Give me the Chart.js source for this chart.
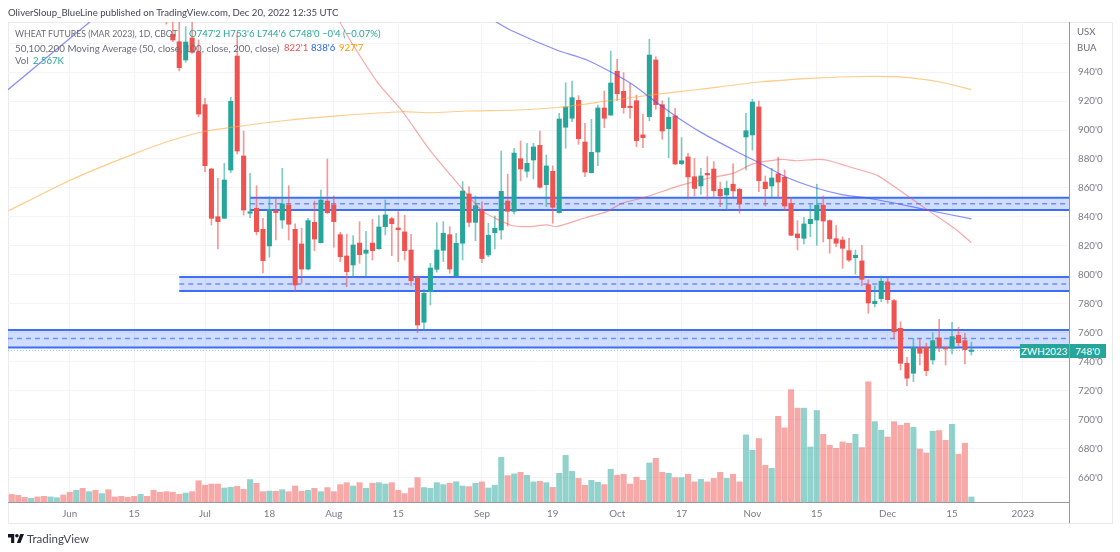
<!DOCTYPE html>
<html>
<head>
<meta charset="utf-8">
<title>Wheat futures</title>
<script src="https://cdn.jsdelivr.net/npm/chart.js@4"></script>
<style>
  html, body { margin: 0; background: #fff; }
  body { width: 1120px; height: 552px; position: relative; overflow: hidden; font-family: Lato, sans-serif; }
  canvas { position: absolute; left: 0; top: 0; }
  .t { position: absolute; white-space: pre; font-size: 9.6px; line-height: 14px; color: #6a6d78; z-index: 2; }
  .up { color: #26a69a; }
  .r1 { top: 27px; } .r2 { top: 41px; } .r3 { top: 54px; }
  #frame { position: absolute; left: 8px; top: 22px; width: 1103px; height: 500px; border: 1px solid #e9eaf0; }
  #axisTail { position: absolute; left: 1068.5px; top: 502px; width: 1px; height: 21px; background: #9598a1; }
  .tag { position: absolute; top: 344px; height: 14px; line-height: 14px; background: #26a69a; color: #fff; font-size: 9.8px; text-align: center; z-index: 3; }
</style>
</head>
<body>
<div id="frame"></div>
<canvas id="price-chart" width="1120" height="552"></canvas>
<div id="axisTail"></div>

<div class="t" style="left:8px;top:6px;color:#434651">OliverSloup_BlueLine published on TradingView.com, Dec 20, 2022 12:35 UTC</div>
<div class="t r1" style="left:15px;font-size:8.7px">WHEAT FUTURES (MAR 2023), 1D, CBOT</div>
<div class="t r1 up" style="left:189px">O747'2</div>
<div class="t r1 up" style="left:223px">H753'6</div>
<div class="t r1 up" style="left:257px">L744'6</div>
<div class="t r1 up" style="left:289px">C748'0</div>
<div class="t r1 up" style="left:322px">−0'4 (−0.07%)</div>
<div class="t r2" style="left:15px;font-size:9.8px">50,100,200 Moving Average (50, close, 100, close, 200, close)</div>
<div class="t r2" style="left:284px;color:#ef5350">822'1</div>
<div class="t r2" style="left:311px;color:#2962ff">838'6</div>
<div class="t r2" style="left:339px;color:#ff9800">927'7</div>
<div class="t r3" style="left:15px">Vol</div>
<div class="t r3 up" style="left:33px">2.567K</div>
<div class="t" style="left:1077px;top:25px">USX</div>
<div class="t" style="left:1077px;top:41px">BUA</div>
<div class="tag" style="left:1020px;width:48.5px">ZWH2023</div>
<div class="tag" style="left:1069.5px;width:36px">748'0</div>
<svg style="position:absolute;left:8px;top:534px" width="16" height="9" viewBox="0 0 36 20"><path fill="#131722" d="M14 20H7V8H0V0h14v20zM28 20h-8L27.5 0H36l-8 20z"/><circle fill="#131722" cx="20" cy="4" r="4"/></svg>
<div class="t" style="left:27px;top:532px;font-size:11.5px;color:#434651">TradingView</div>

<script>
// daily bars, bar index 0 = first bar on the left edge
const volumes = [
  3.9, 3.4, 2.4, 1.9, 2.6, 2.9, 2.6, 2.2, 3.6, 5.0,
  6.0, 7.0, 5.3, 6.0, 4.3, 6.3, 2.6, 2.9, 2.4, 2.9,
  3.9, 2.9, 6.0, 5.0, 5.3, 5.0, 3.9, 4.6, 5.3, 10.9,
  8.6, 9.2, 9.2, 7.2, 7.5, 8.0, 6.5, 11.5, 9.6, 5.3,
  5.6, 5.5, 6.3, 5.3, 8.2, 5.5, 6.0, 7.0, 5.3, 7.4,
  5.3, 8.9, 9.9, 8.2, 9.9, 7.0, 9.6, 9.9, 9.2, 9.9,
  6.0, 4.3, 7.2, 12.5, 7.4, 7.0, 9.9, 8.9, 9.6, 10.4,
  8.2, 7.9, 9.6, 10.3, 7.2, 8.6, 22.9, 13.5, 14.4, 15.2,
  13.7, 10.3, 10.6, 9.9, 7.5, 14.7, 23.9, 15.7, 12.1, 8.6,
  11.1, 10.1, 8.9, 16.8, 13.7, 14.2, 9.2, 12.7, 11.1, 20.0,
  22.4, 15.2, 14.7, 12.5, 12.5, 14.2, 10.3, 11.6, 10.3, 12.1,
  15.2, 12.1, 14.2, 10.3, 34.4, 26.5, 32.5, 18.8, 17.3, 43.9,
  38.0, 57.6, 48.1, 48.1, 28.2, 46.9, 34.7, 29.1, 27.5, 30.8,
  30.1, 34.7, 27.9, 61.6, 41.2, 36.8, 33.3, 41.2, 39.3, 40.4,
  38.3, 27.2, 25.1, 36.3, 36.6, 31.6, 39.8, 24.5, 30.1, 2.567,
];
// r = down day, t = up day
const volumeDir =
  'rrrtrrttrr' + 'trtrtrrrrr' + 'trrrrrrtrr' + 'rrrttrrtrr' + 'trtrrrtrtr' +
  'rrrtrtrttr' + 'rrrrttttrt' + 'trtrtttrtr' + 'ttrtrtttrr' + 'ttrtrrrrrt' +
  'rrtrtrrtrr' + 'rtrrttrrtr' + 'rrrtttrrrr' + 'rtrrttrrrr' + 'trrtrrtrrt';

// candles before this index sit above the visible price range
const firstCandle = 24;
const opens = [
  982, 966, 960.9, 948.3, 963.5, 954, 917.5, 873.1, 840.2, 839.1,
  872.4, 951, 882.1, 842.6, 846, 831.5, 820, 844.4, 837.9, 848.3,
  831.5, 821.4, 804.1, 836.3, 822.3, 851, 848.3, 827.8, 813.1, 806.9,
  822, 815, 822, 818.1, 833.3, 838.8, 832.4, 829.7, 817.2, 798.4,
  767.4, 788.7, 803.9, 817, 827.8, 799.3, 821.9, 855.9, 836.3, 844.8,
  813.8, 829.2, 831, 851, 843.9, 880.2, 871.5, 879.3, 889.4, 862.3,
  871.5, 843, 901.9, 908.1, 920.5, 891.7, 870.6, 884.8, 915.2, 910.3,
  940.5, 926.7, 915.9, 920.2, 896.6, 909.2, 948.3, 917.5, 900.9, 909.7,
  876.8, 881.4, 867.8, 861.4, 870.1, 873.1, 859.1, 855.2, 862.6, 859.1,
  895.2, 896.6, 915.9, 864.1, 861.4, 869.7, 867.4, 849.4, 828.3, 825.3,
  835.4, 837.9, 848.1, 837.5, 825, 824.1, 816.8, 811.9, 809.7, 793.3,
  780.2, 783.7, 795.2, 782.3, 763.2, 739.1, 732.2, 749.9, 749.9, 741.4,
  756.6, 750.1, 749.5, 758.4, 754.7, 747.25,
];
const highs = [
  985, 976, 980, 971.3, 978, 962.1, 921.9, 873.6, 866.7, 877,
  922.5, 966.9, 899.3, 870.1, 861.6, 839.1, 854, 852.9, 873.6, 861.6,
  835.2, 832.2, 839.1, 851, 858.6, 880, 854.5, 829.4, 828.1, 827.1,
  836.8, 830.1, 838.4, 840.9, 851.7, 839.8, 843.7, 841.2, 828.1, 799.3,
  790.1, 808, 836.1, 836.8, 833.3, 828.8, 864.4, 860.9, 854.5, 850.5,
  835.7, 840.7, 885.5, 869.6, 887.4, 892.4, 890.8, 890.8, 899.3, 882.8,
  875.2, 911.5, 932.6, 933.8, 923.7, 904.6, 907.4, 917.2, 926.9, 954.5,
  948.8, 939.5, 932.2, 924.1, 911, 962.6, 950.6, 920.2, 922.3, 915,
  894.7, 883.9, 880.5, 873.6, 881.6, 878.2, 864.1, 864.8, 876.6, 859.8,
  911.5, 921.2, 920, 868.3, 873.6, 881.2, 872.4, 853.6, 837.5, 839.8,
  848.3, 862.6, 854.5, 838, 834, 826.4, 825.3, 817.2, 820.5, 796.6,
  792.4, 799.3, 798, 783.2, 767.8, 743.2, 756.3, 756.3, 752.9, 760.2,
  769.4, 750.3, 767.4, 763.9, 759.8, 753.75,
];
const lows = [
  973, 960.9, 940.7, 946.7, 952.9, 909, 871.3, 834.5, 817.9, 839.1,
  870.6, 883.5, 841.4, 839.5, 827.6, 801.4, 812.2, 824.1, 832.2, 824.1,
  788.5, 794.3, 803.5, 816.8, 822, 842.5, 819.1, 809.2, 791.9, 798.4,
  808, 799.5, 810.3, 817.7, 827.6, 813.3, 809.2, 810.3, 792.4, 760.2,
  762.1, 779.3, 801.9, 809.2, 801.2, 799, 810.3, 833.3, 823.7, 808.5,
  812.6, 817.9, 824.6, 833.8, 842.1, 865, 867.4, 866.2, 859.8, 847.1,
  835.7, 842.7, 887.4, 905.7, 890.1, 867.8, 870.3, 875.4, 901.6, 910,
  920.2, 911.5, 908.1, 888.5, 887.8, 906.4, 914.3, 893.6, 880.9, 875.9,
  876, 852.4, 854.5, 855.6, 852.2, 853.1, 847.1, 845.3, 854, 842.6,
  872.4, 886.2, 857.5, 847.6, 853.6, 853.6, 844.4, 827.1, 817.2, 821.4,
  826.4, 820.5, 822.8, 815, 819.5, 804.6, 809.2, 800.7, 792.6, 773.6,
  778, 781.6, 780.5, 755.7, 734.5, 723.7, 726.4, 737.9, 730.5, 738.4,
  747.1, 737.9, 745.5, 751, 738.6, 744.75,
];
const closes = [
  978, 962.1, 943, 960.7, 953.6, 911, 875.4, 839.1, 836.8, 865.5,
  919.8, 885.5, 844.8, 843.3, 829.9, 809.9, 845.3, 843, 849, 835,
  793.1, 804.1, 837.5, 824.8, 851.7, 842.9, 836.8, 812.6, 802.3, 820.7,
  814, 817.2, 816.8, 833.1, 841.4, 835.4, 831.2, 816.8, 796.1, 765.5,
  787.4, 804.8, 817.2, 828.8, 804.1, 821.9, 857.9, 836.3, 847.8, 811.3,
  827.4, 832.2, 857.7, 843.9, 884.1, 873.1, 877, 888.3, 860.5, 875.2,
  846.7, 907.6, 915.9, 922.3, 894, 871, 884.6, 915.2, 908.1, 932.4,
  925, 915.4, 915.4, 892.6, 894.7, 951.7, 917.5, 899.3, 908.8, 876.6,
  878.8, 867.6, 859.7, 868.3, 869, 858.1, 854.5, 859.8, 858, 849,
  899.5, 919.3, 865, 859.5, 866.9, 864.1, 847.6, 827.4, 825.7, 835.2,
  838.4, 848.1, 837.2, 825, 821.9, 818.4, 810.3, 813.6, 797, 780.7,
  781.9, 795.7, 783, 760.9, 739.1, 728.8, 749.9, 746, 734, 754.7,
  750.1, 749, 757.5, 753.3, 748.5, 748,
];

// moving averages, read at a few bar positions
const ma50Bars = [21.5, 46.3, 51, 52.5, 56.9, 60.5, 64.7, 69.9, 73.2, 77.4, 80, 83.1, 84.6, 89.3, 92.4, 94.7, 98.6, 103.2, 106.9, 108.9, 112, 115.1, 119.3, 121.9, 125.2, 127, 129.6, 134.3, 137.4, 142.6, 146.7, 149];
const ma50 = [1093.1, 1006.9, 974, 962.1, 932.2, 913.8, 887.4, 859.8, 843.7, 834.5, 833.3, 834.5, 833.3, 839.8, 843.7, 849.4, 854, 860.9, 865.2, 867.4, 870.1, 876.6, 879.8, 878.8, 879.8, 878.8, 875.2, 868.9, 859.8, 843.7, 831, 822.25];
const ma100Bars = [-0.6, 12.1, 21.5, 44.8, 65, 75, 77.4, 84.6, 89.3, 93.4, 96.5, 99.6, 103.2, 107.1, 112.6, 116.2, 120.3, 125, 129.1, 132.8, 137.9, 142.6, 149];
const ma100 = [927.8, 974.5, 1007.6, 1032.4, 1003.5, 975.2, 969, 955.2, 948.3, 939.1, 931, 920.7, 909.2, 898.2, 885, 877, 867.4, 859.8, 855.2, 853.1, 848.8, 844.4, 838.75];
const ma200Bars = [-0.5, 7.5, 12.1, 18.9, 24.1, 29.7, 34.9, 42.2, 50.5, 60.7, 64.9, 70.6, 78.4, 85.1, 92.4, 99.1, 106.9, 116.2, 125.5, 131.7, 137.9, 144.1, 149];
const ma200 = [844.3, 862.1, 871.3, 883.4, 891.9, 898.8, 902.3, 906.4, 909.7, 912.6, 911.9, 913.1, 913.8, 915.7, 920, 924.1, 928.1, 933.1, 935.9, 936.9, 936.6, 933.1, 927.875];

// support / resistance bands
const zoneStart  = [37, 26, -0.6];
const zoneTop    = [853.3, 798.6, 762.1];
const zoneMid    = [849.2, 793.8, 756.1];
const zoneBottom = [844.8, 789.0, 750.0];

const lastPrice = 748;

const tickBars   = [9, 19, 30, 40, 50, 60, 73, 84, 94, 104, 115, 125, 136, 146, 157];
const tickLabels = ['Jun', '15', 'Jul', '18', 'Aug', '15', 'Sep', '19', 'Oct', '17', 'Nov', '15', 'Dec', '15', '2023'];

const X_MIN = -0.59;
const X_MAX = 164.16;
const UP = '#26a69a';
const DOWN = '#ef5350';
const GRID = '#f3f4f9';
const AXIS = '#9598a1';
const TICK_FONT = { size: 9.8, family: 'Lato, sans-serif' };

const candleIdx = opens.map((_, i) => i + firstCandle);
const isUp = i => opens[i] <= closes[i];

function curve(xs, ys) {
  return xs.map((x, i) => ({ x, y: ys[i] }));
}
function maLine(xs, ys, color) {
  return {
    type: 'line', data: curve(xs, ys), borderColor: color, borderWidth: 1.2,
    pointRadius: 0, tension: 0.2, order: 1,
  };
}

const datasets = [];

// Volume
datasets.push({
  type: 'bar', yAxisID: 'vol', order: 7, grouped: false, barThickness: 5.4,
  data: volumes.map((v, i) => ({ x: i, y: v })),
  backgroundColor: volumes.map((_, i) => volumeDir[i] === 't' ? 'rgba(38,166,154,0.5)' : 'rgba(239,83,80,0.5)'),
});

// Zones: filled band, two solid edges, dashed middle
zoneStart.forEach((start, i) => {
  const span = [start, X_MAX];
  datasets.push({
    type: 'line', order: 6, data: curve(span, [zoneTop[i], zoneTop[i]]),
    borderColor: '#3f6ff5', borderWidth: 2, pointRadius: 0,
    fill: { target: { value: zoneBottom[i] } }, backgroundColor: 'rgba(41,98,255,0.22)',
  });
  datasets.push({
    type: 'line', order: 6, data: curve(span, [zoneBottom[i], zoneBottom[i]]),
    borderColor: '#3f6ff5', borderWidth: 2, pointRadius: 0,
  });
  datasets.push({
    type: 'line', order: 6, data: curve(span, [zoneMid[i], zoneMid[i]]),
    borderColor: '#7f9ff5', borderWidth: 1.5, borderDash: [5, 4], pointRadius: 0,
  });
});

// Last price dotted line
datasets.push({
  type: 'line', order: 5, data: curve([X_MIN, X_MAX], [lastPrice, lastPrice]),
  borderColor: 'rgba(38,166,154,0.5)', borderWidth: 1, borderDash: [1, 2], pointRadius: 0,
});

// Wicks and bodies
datasets.push({
  type: 'bar', order: 4, grouped: false, barThickness: 1,
  data: candleIdx.map((x, i) => ({ x, y: [lows[i], highs[i]] })),
  backgroundColor: opens.map((_, i) => isUp(i) ? 'rgba(38,166,154,0.6)' : 'rgba(239,83,80,0.6)'),
});
datasets.push({
  type: 'bar', order: 3, grouped: false, barThickness: 4.4, minBarLength: 1.5,
  data: candleIdx.map((x, i) => ({ x, y: [opens[i], closes[i]] })),
  backgroundColor: opens.map((_, i) => isUp(i) ? UP : DOWN),
});

// Moving averages
datasets.push(maLine(ma50Bars, ma50, 'rgba(239,83,80,0.5)'));
datasets.push(maLine(ma100Bars, ma100, 'rgba(70,80,255,0.65)'));
datasets.push(maLine(ma200Bars, ma200, 'rgba(255,170,60,0.6)'));

new Chart(document.getElementById('price-chart').getContext('2d'), {
  data: { datasets },
  options: {
    responsive: false,
    animation: false,
    layout: { padding: { left: 8, top: 22, right: 8, bottom: 29 } },
    plugins: { legend: { display: false }, tooltip: { enabled: false } },
    scales: {
      x: {
        type: 'linear', min: X_MIN, max: X_MAX, offset: false,
        afterFit: s => { s.height = 21; },
        afterBuildTicks: s => { s.ticks = tickBars.map(value => ({ value })); },
        grid: { color: GRID, drawTicks: false, offset: false },
        border: { color: AXIS },
        ticks: {
          color: '#787b86', font: TICK_FONT,
          padding: 6, maxRotation: 0, autoSkip: false, includeBounds: false,
          callback: (v, i) => tickLabels[i],
        },
      },
      y: {
        position: 'right', min: 643.4, max: 974.5,
        afterFit: s => { s.width = 43; },
        grid: { color: GRID, drawTicks: false },
        border: { color: AXIS },
        ticks: {
          stepSize: 20, color: '#787b86', font: TICK_FONT,
          padding: 9, includeBounds: false,
          callback: v => (v > 940 ? '' : `${v}'0`),
        },
      },
      vol: { display: false, min: 0, max: 246 },
    },
  },
});
</script>
</body>
</html>
